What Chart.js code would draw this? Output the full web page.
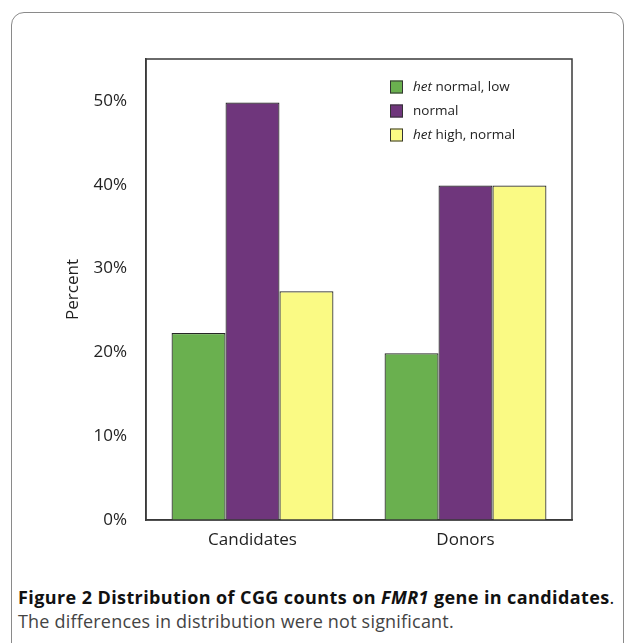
<!DOCTYPE html>
<html>
<head>
<meta charset="utf-8">
<script src="https://cdn.jsdelivr.net/npm/chart.js@4.4.1/dist/chart.umd.min.js"></script>
<style>
    html, body { margin: 0; padding: 0; background: #fff; }
    body { width: 634px; height: 643px; position: relative; overflow: hidden; font-family: "Open Sans", sans-serif; }
    .frame { position: absolute; left: 11px; top: 12px; width: 611px; height: 700px; border: 1.5px solid #8a8a8a; border-radius: 13px; }
    .chart-box { position: absolute; left: 0; top: 0; width: 634px; height: 560px; }
    .caption { position: absolute; left: 18px; top: 585px; width: 614px; font-size: 18px; line-height: 24px; white-space: nowrap; }
    .caption .title { color: #111; font-weight: 700; letter-spacing: 0.4px; }
    .caption .title .dot { font-weight: 400; }
    .caption .desc { color: #444; letter-spacing: 0.2px; }
</style>
</head>
<body>
<div class="frame"></div>
<div class="chart-box"><canvas id="distChart"></canvas></div>
<div class="caption">
    <div class="title">Figure 2 Distribution of CGG counts on <i>FMR1</i> gene in candidates<span class="dot">.</span></div>
    <div class="desc">The differences in distribution were not significant.</div>
</div>
<script>
// nhóm trên trục x
const groups = ['Candidates', 'Donors'];

// phần trăm của từng nhóm
const hetNormalLow = [22.3, 19.9];
const normal = [49.8, 39.9];
const hetHighNormal = [27.3, 39.9];

const yTicks = [0, 10, 20, 30, 40, 50];

// tên series: phần in nghiêng + phần thường
const seriesNames = [
    ['het', ' normal, low'],
    ['', 'normal'],
    ['het', ' high, normal']
];
const seriesColors = ['#6ab04f', '#6f367c', '#fafa84'];

// khung viền quanh vùng vẽ
const plotFrame = {
    id: 'plotFrame',
    afterDraw(chart) {
        const { ctx, chartArea } = chart;
        ctx.save();
        ctx.strokeStyle = '#3a3a3a';
        ctx.lineWidth = 1.5;
        ctx.strokeRect(chartArea.left, chartArea.top, chartArea.right - chartArea.left, chartArea.bottom - chartArea.top);
        ctx.restore();
    }
};

// chú thích bên trong biểu đồ (có chữ nghiêng)
const innerLegend = {
    id: 'innerLegend',
    afterDraw(chart) {
        const { ctx, chartArea } = chart;
        const boxX = chartArea.right - 182;
        const firstY = chartArea.top + 28;
        const rowGap = 24;
        const size = 13;
        ctx.save();
        ctx.textBaseline = 'middle';
        chart.data.datasets.forEach((ds, i) => {
            const cy = firstY + i * rowGap;
            ctx.fillStyle = ds.backgroundColor;
            ctx.fillRect(boxX, cy - size / 2, size, size);
            ctx.strokeStyle = '#333';
            ctx.lineWidth = 1;
            ctx.strokeRect(boxX + 0.5, cy - size / 2 + 0.5, size - 1, size - 1);

            let tx = boxX + 23;
            const [it, rest] = seriesNames[i];
            ctx.fillStyle = '#222';
            if (it) {
                ctx.font = 'italic 13.5px "Open Sans"';
                ctx.fillText(it, tx, cy);
                tx += ctx.measureText(it).width;
            }
            ctx.font = '13.5px "Open Sans"';
            ctx.fillText(rest, tx, cy);
        });
        ctx.restore();
    }
};

Chart.defaults.font.family = '"Open Sans", sans-serif';
Chart.defaults.color = '#222';

const ctx = document.getElementById('distChart').getContext('2d');
new Chart(ctx, {
    type: 'bar',
    data: {
        labels: groups,
        datasets: [hetNormalLow, normal, hetHighNormal].map((vals, i) => ({
            label: seriesNames[i].join(''),
            data: vals,
            backgroundColor: seriesColors[i],
            borderColor: '#262626',
            borderWidth: 1.2,
            borderSkipped: 'bottom',
            categoryPercentage: 0.76,
            barPercentage: 1
        }))
    },
    options: {
        responsive: true,
        maintainAspectRatio: false,
        animation: false,
        layout: { padding: { left: 0, top: 59, right: 62, bottom: 0 } },
        plugins: {
            legend: { display: false },
            tooltip: { enabled: false }
        },
        scales: {
            x: {
                grid: { display: false },
                border: { display: true, color: '#3a3a3a', width: 1.5 },
                afterFit: (scale) => { scale.height = 40; },
                ticks: {
                    padding: 2,
                    font: { size: 17 },
                    color: '#222',
                    maxRotation: 0
                }
            },
            y: {
                min: 0,
                max: 55,
                grid: { display: false },
                border: { display: true, color: '#3a3a3a', width: 1.5 },
                afterBuildTicks: (scale) => {
                    scale.ticks = yTicks.map(v => ({ value: v }));
                },
                afterFit: (scale) => { scale.width = 146; },
                ticks: {
                    padding: 11,
                    font: { size: 17 },
                    color: '#222',
                    callback: (v) => v + '%'
                },
                title: {
                    display: true,
                    text: 'Percent',
                    font: { size: 17 },
                    color: '#222',
                    padding: { top: 63, bottom: 0 }
                }
            }
        }
    },
    plugins: [plotFrame, innerLegend]
});
</script>
</body>
</html>
